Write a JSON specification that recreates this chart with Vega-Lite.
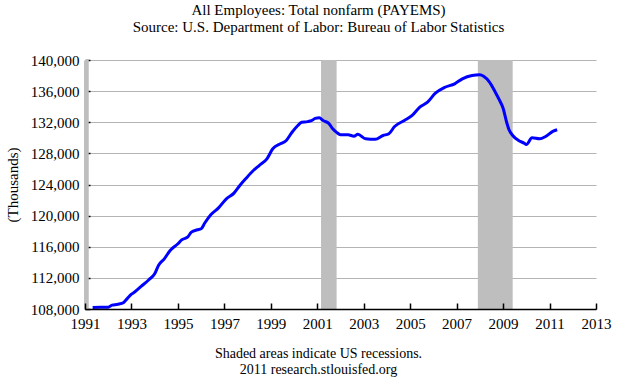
{
  "$schema": "https://vega.github.io/schema/vega-lite/v6.json",
  "width": 511,
  "height": 249,
  "autosize": {"type": "none"},
  "padding": {"left": 85, "top": 60, "right": 34, "bottom": 69},
  "background": "white",
  "config": {"font": "Liberation Serif", "view": {"stroke": null}},
  "title": {
    "text": "All Employees: Total nonfarm (PAYEMS)",
    "subtitle": "Source: U.S. Department of Labor: Bureau of Labor Statistics",
    "anchor": "middle",
    "dx": -22,
    "offset": 18,
    "font": "Liberation Serif",
    "subtitleFont": "Liberation Serif",
    "fontSize": 15,
    "subtitleFontSize": 15,
    "fontWeight": "normal",
    "color": "black",
    "subtitleColor": "black",
    "subtitlePadding": 2
  },
  "datasets": {
    "rec": [
      {"start": "1990-07-01", "end": "1991-03-01"},
      {"start": "2001-03-01", "end": "2001-11-01"},
      {"start": "2007-12-01", "end": "2009-06-01"}
    ],
    "emp": [
      {"date": "1991-05-01", "value": 108200},
      {"date": "1991-09-01", "value": 108220},
      {"date": "1992-01-01", "value": 108230},
      {"date": "1992-03-01", "value": 108500},
      {"date": "1992-06-01", "value": 108600},
      {"date": "1992-09-01", "value": 108850},
      {"date": "1992-11-01", "value": 109400},
      {"date": "1993-01-01", "value": 109900},
      {"date": "1993-03-01", "value": 110250},
      {"date": "1993-06-01", "value": 110900},
      {"date": "1993-10-01", "value": 111760},
      {"date": "1994-01-01", "value": 112530},
      {"date": "1994-03-01", "value": 113590},
      {"date": "1994-06-01", "value": 114450},
      {"date": "1994-09-01", "value": 115520},
      {"date": "1995-01-01", "value": 116380},
      {"date": "1995-03-01", "value": 116890},
      {"date": "1995-06-01", "value": 117230},
      {"date": "1995-08-01", "value": 117870},
      {"date": "1995-11-01", "value": 118180},
      {"date": "1996-01-01", "value": 118310},
      {"date": "1996-03-01", "value": 119080},
      {"date": "1996-06-01", "value": 120110},
      {"date": "1996-10-01", "value": 121000},
      {"date": "1997-02-01", "value": 122160},
      {"date": "1997-06-01", "value": 122890},
      {"date": "1997-09-01", "value": 123870},
      {"date": "1997-12-01", "value": 124730},
      {"date": "1998-04-01", "value": 125800},
      {"date": "1998-07-01", "value": 126440},
      {"date": "1998-11-01", "value": 127300},
      {"date": "1999-02-01", "value": 128590},
      {"date": "1999-06-01", "value": 129230},
      {"date": "1999-09-01", "value": 129660},
      {"date": "1999-12-01", "value": 130720},
      {"date": "2000-03-01", "value": 131580},
      {"date": "2000-05-01", "value": 132010},
      {"date": "2000-08-01", "value": 132080},
      {"date": "2000-10-01", "value": 132200},
      {"date": "2000-12-01", "value": 132500},
      {"date": "2001-02-01", "value": 132570},
      {"date": "2001-04-01", "value": 132230},
      {"date": "2001-07-01", "value": 131850},
      {"date": "2001-09-01", "value": 131160},
      {"date": "2001-11-01", "value": 130700},
      {"date": "2002-01-01", "value": 130400},
      {"date": "2002-05-01", "value": 130390},
      {"date": "2002-08-01", "value": 130210},
      {"date": "2002-10-01", "value": 130450},
      {"date": "2003-02-01", "value": 129870},
      {"date": "2003-07-01", "value": 129800},
      {"date": "2003-11-01", "value": 130300},
      {"date": "2004-02-01", "value": 130520},
      {"date": "2004-05-01", "value": 131450},
      {"date": "2004-10-01", "value": 132230},
      {"date": "2005-02-01", "value": 132870},
      {"date": "2005-06-01", "value": 133940},
      {"date": "2005-10-01", "value": 134580},
      {"date": "2006-02-01", "value": 135730},
      {"date": "2006-07-01", "value": 136500},
      {"date": "2006-12-01", "value": 136940},
      {"date": "2007-04-01", "value": 137580},
      {"date": "2007-09-01", "value": 138010},
      {"date": "2008-01-01", "value": 138100},
      {"date": "2008-03-01", "value": 137900},
      {"date": "2008-06-01", "value": 137150},
      {"date": "2008-09-01", "value": 135860},
      {"date": "2008-11-01", "value": 134900},
      {"date": "2009-01-01", "value": 133800},
      {"date": "2009-03-01", "value": 131900},
      {"date": "2009-04-01", "value": 131100},
      {"date": "2009-06-01", "value": 130300},
      {"date": "2009-09-01", "value": 129660},
      {"date": "2009-12-01", "value": 129300},
      {"date": "2010-01-01", "value": 129140},
      {"date": "2010-04-01", "value": 130000},
      {"date": "2010-08-01", "value": 129870},
      {"date": "2010-11-01", "value": 130170},
      {"date": "2011-03-01", "value": 130850},
      {"date": "2011-05-01", "value": 131030}
    ]
  },
  "layer": [
    {
      "data": {"name": "rec"},
      "mark": {"type": "rect", "color": "#bebebe", "clip": true},
      "encoding": {
        "x": {
          "field": "start",
          "type": "temporal",
          "scale": {"type": "utc", "domain": [{"year": 1991, "utc": true}, {"year": 2013, "utc": true}]},
          "axis": {
            "values": [
              {"year": 1991, "utc": true}, {"year": 1993, "utc": true}, {"year": 1995, "utc": true},
              {"year": 1997, "utc": true}, {"year": 1999, "utc": true}, {"year": 2001, "utc": true},
              {"year": 2003, "utc": true}, {"year": 2005, "utc": true}, {"year": 2007, "utc": true},
              {"year": 2009, "utc": true}, {"year": 2011, "utc": true}, {"year": 2013, "utc": true}
            ],
            "format": "%Y",
            "grid": false,
            "zindex": 1,
            "domainColor": "black",
            "domainWidth": 1.5,
            "tickColor": "black",
            "tickWidth": 1.5,
            "tickSize": -6,
            "labelPadding": 13,
            "labelFont": "Liberation Serif",
            "labelFontSize": 15,
            "labelColor": "black",
            "labelFlush": false,
            "labelOverlap": false,
            "title": ["Shaded areas indicate US recessions.", "2011 research.stlouisfed.org"],
            "titleFont": "Liberation Serif",
            "titleFontSize": 14,
            "titleFontWeight": "normal",
            "titleColor": "black",
            "titleX": 233,
            "titleY": 48,
            "titleBaseline": "alphabetic",
            "titleLineHeight": 16
          }
        },
        "x2": {"field": "end"}
      }
    },
    {
      "data": {"name": "emp"},
      "mark": {"type": "line", "color": "#0000ff", "strokeWidth": 3, "clip": true, "interpolate": "monotone"},
      "encoding": {
        "x": {"field": "date", "type": "temporal"},
        "y": {
          "field": "value",
          "type": "quantitative",
          "scale": {"domain": [108000, 140000], "nice": false, "zero": false},
          "axis": {
            "values": [108000, 112000, 116000, 120000, 124000, 128000, 132000, 136000, 140000],
            "format": ",d",
            "grid": true,
            "gridColor": "#b4b4b4",
            "gridWidth": 1.2,
            "gridOpacity": 1,
            "domainColor": "black",
            "domainWidth": 1.5,
            "tickColor": "black",
            "tickWidth": 1.5,
            "tickSize": -5,
            "labelPadding": 11,
            "labelFont": "Liberation Serif",
            "labelFontSize": 15,
            "labelColor": "black",
            "labelFlush": false,
            "labelOverlap": false,
            "title": "(Thousands)",
            "titleFont": "Liberation Serif",
            "titleFontSize": 15,
            "titleFontWeight": "normal",
            "titleColor": "black",
            "titleX": -73,
            "titleY": 124.5,
            "titleAngle": -90,
            "titleAlign": "center",
            "titleBaseline": "middle"
          }
        }
      }
    }
  ]
}
